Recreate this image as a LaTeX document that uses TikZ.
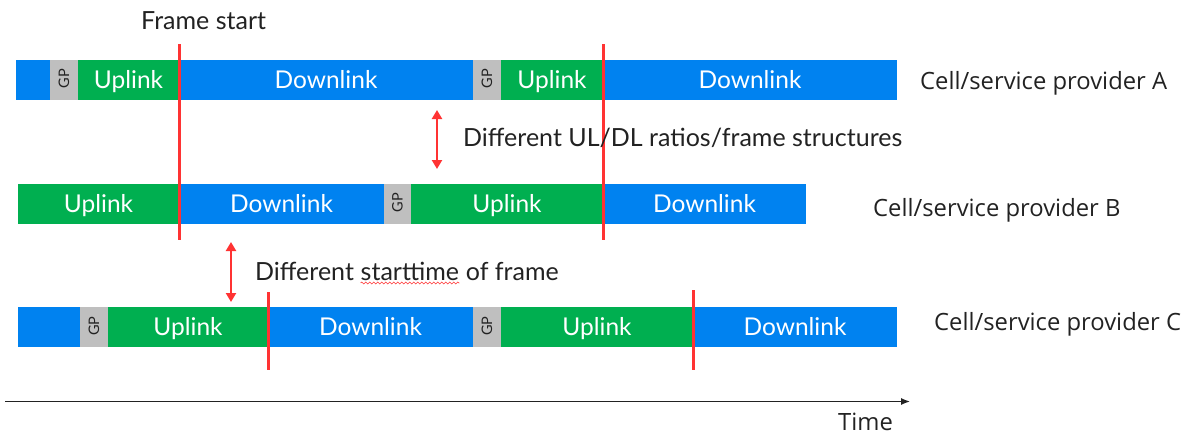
\documentclass[tikz,border=0pt]{standalone}
\usepackage{fontspec}
\usepackage{graphicx}
\setmainfont{Lato}
\newfontfamily\osans{Open Sans}
\usetikzlibrary{arrows.meta,decorations.pathmorphing}
\definecolor{dlblue}{HTML}{0082F0}
\definecolor{ulgreen}{HTML}{00AF50}
\definecolor{gpgray}{HTML}{BFBFBF}
\definecolor{redmark}{HTML}{FF3333}
\definecolor{ink}{HTML}{222222}
\newcommand\segm[6]{\node[seg,fill=#5,minimum width={#3-#2},anchor=west] (#1) at (#2,#4) {#6};}
\newcommand\gptext{\rotatebox{90}{\fontsize{14.5}{14.5}\selectfont\color{ink}GP}}
\begin{document}
\begin{tikzpicture}[x=1pt,y=-1pt,
  seg/.style={inner sep=0pt,outer sep=0pt,minimum height=40pt,text=white,
    font=\fontsize{24.5}{24.5}\selectfont,text height=17.6pt,text depth=0pt},
  annot/.style={inner sep=0pt,anchor=base west,text=ink,font=\fontsize{25}{25}\selectfont},
  cell/.style={inner sep=0pt,anchor=base west,text=ink,font=\osans\fontsize{23.8}{23.8}\selectfont},
  frameline/.style={redmark,line width=3pt},
  dblarrow/.style={redmark,line width=2.5pt,{Triangle[length=9pt,width=10pt]}-{Triangle[length=9pt,width=10pt]}},
  axis/.style={ink,line width=1.2pt,-{Latex[length=9pt,width=7pt]}}]
\useasboundingbox (0,0) rectangle (1192,437);
% Row A
\segm{a1}{16}{50}{79.5}{dlblue}{}
\segm{a2}{50}{78}{79.5}{gpgray}{\gptext}
\segm{a3}{78}{179}{79.5}{ulgreen}{Uplink}
\segm{a4}{179}{473}{79.5}{dlblue}{Downlink}
\segm{a5}{473}{501}{79.5}{gpgray}{\gptext}
\segm{a6}{501}{603}{79.5}{ulgreen}{Uplink}
\segm{a7}{603}{897}{79.5}{dlblue}{Downlink}
% Row B
\segm{b1}{18}{179}{203.5}{ulgreen}{Uplink}
\segm{b2}{179}{384}{203.5}{dlblue}{Downlink}
\segm{b3}{384}{411}{203.5}{gpgray}{\gptext}
\segm{b4}{411}{603}{203.5}{ulgreen}{Uplink}
\segm{b5}{603}{806}{203.5}{dlblue}{Downlink}
% Row C
\segm{c1}{18}{80}{327}{dlblue}{}
\segm{c2}{80}{108}{327}{gpgray}{\gptext}
\segm{c3}{108}{268}{327}{ulgreen}{Uplink}
\segm{c4}{268}{473}{327}{dlblue}{Downlink}
\segm{c5}{473}{501}{327}{gpgray}{\gptext}
\segm{c6}{501}{693}{327}{ulgreen}{Uplink}
\segm{c7}{693}{897}{327}{dlblue}{Downlink}
% frame start lines
\coordinate (l1t) at (179,44);  \coordinate (l1b) at (179,240);
\coordinate (l2t) at (603,44);  \coordinate (l2b) at (603,240);
\coordinate (l3t) at (268,292); \coordinate (l3b) at (268,370);
\coordinate (l4t) at (693,290); \coordinate (l4b) at (693,370);
\draw[frameline] (l1t) -- (l1b);
\draw[frameline] (l2t) -- (l2b);
\draw[frameline] (l3t) -- (l3b);
\draw[frameline] (l4t) -- (l4b);
% annotations
\node[annot] (fs) at (141,29.3) {Frame start};
\coordinate (r1t) at (437,110); \coordinate (r1b) at (437,169);
\draw[dblarrow] (r1t) -- (r1b);
\node[annot] (ratio) at (463,146) {Different UL/DL ratios/frame structures};
\coordinate (r2t) at (231,242); \coordinate (r2b) at (231,302);
\draw[dblarrow] (r2t) -- (r2b);
\node[annot] (st1) at (255,280) {Different\ \mbox{}};
\node[annot] (st2) at (st1.base east) {starttime};
\node[annot] (st3) at (st2.base east) {\mbox{}\ of frame};
\draw[redmark,line width=0.6pt,decorate,decoration={snake,amplitude=0.9pt,segment length=4pt}]
  ([yshift=-3pt]st2.base west) -- ([yshift=-3pt]st2.base east);
% cell labels
\node[cell] (ca) at (920,89) {Cell/service provider A};
\node[cell] (cb) at (873,216) {Cell/service provider B};
\node[cell] (cc) at (934,330) {Cell/service provider C};
% time axis
\coordinate (t0) at (5,401.5); \coordinate (t1) at (910,401.5);
\draw[axis] (t0) -- (t1);
\node[cell] (time) at (838,430) {Time};
\end{tikzpicture}
\end{document}
